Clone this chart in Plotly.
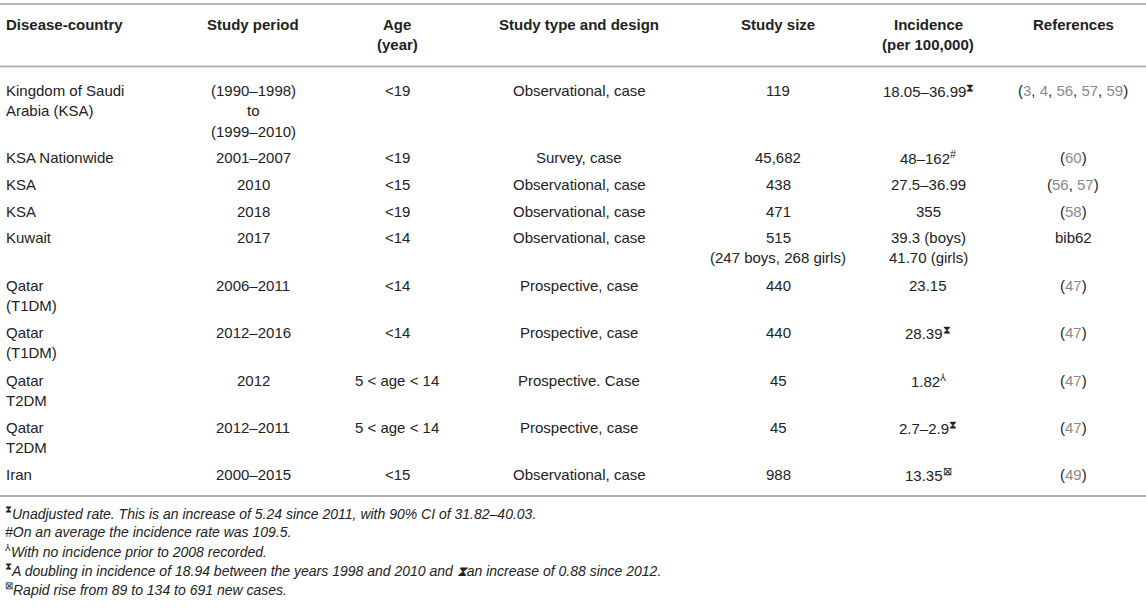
import plotly.graph_objects as go

# ---------------- data ----------------
headers = ["Disease-country", "Study period", "Age\n(year)", "Study type and design",
           "Study size", "Incidence\n(per 100,000)", "References"]

countries = ["Kingdom of Saudi\nArabia (KSA)", "KSA Nationwide", "KSA", "KSA", "Kuwait",
             "Qatar\n(T1DM)", "Qatar\n(T1DM)", "Qatar\nT2DM", "Qatar\nT2DM", "Iran"]
periods = ["(1990–1998)\nto\n(1999–2010)", "2001–2007", "2010", "2018", "2017",
           "2006–2011", "2012–2016", "2012", "2012–2011", "2000–2015"]
ages = ["<19", "<19", "<15", "<19", "<14", "<14", "<14", "5 < age < 14", "5 < age < 14", "<15"]
designs = ["Observational, case", "Survey, case", "Observational, case", "Observational, case",
           "Observational, case", "Prospective, case", "Prospective, case", "Prospective. Case",
           "Prospective, case", "Observational, case"]
sizes = ["119", "45,682", "438", "471", "515\n(247 boys, 268 girls)", "440", "440", "45", "45", "988"]
incidences = ["18.05–36.99", "48–162", "27.5–36.99", "355", "39.3 (boys)\n41.70 (girls)",
              "23.15", "28.39", "1.82", "2.7–2.9", "13.35"]
incidence_marks = ["⧗", "#", "", "", "", "", "⧗", "⅄", "⧗", "⊠"]
references = [[3, 4, 56, 57, 59], [60], [56, 57], [58], "bib62", [47], [47], [47], [47], [49]]

footnote_marks = ["⧗", "", "⅄", "⧗", "⊠"]
footnotes = [
    "Unadjusted rate. This is an increase of 5.24 since 2011, with 90% CI of 31.82–40.03.",
    "#On an average the incidence rate was 109.5.",
    "With no incidence prior to 2008 recorded.",
    "A doubling in incidence of 18.94 between the years 1998 and 2010 and ⧗an increase of 0.88 since 2012.",
    "Rapid rise from 89 to 134 to 691 new cases.",
]

# ---------------- layout / style ----------------
W, H = 1146, 610
FONT = "Liberation Sans, Arial, Helvetica, sans-serif"
TXT = "#222222"
GRAY_REF = "#8a8a8a"
RULE = "#b4b4b4"
FS = 15
LINE = 20.5

col_x = [4, 253, 397, 579, 778, 928, 1073]
col_anchor = ["left", "center", "center", "center", "center", "center", "center"]
header_y = 24
row_y = [90, 157.5, 184, 211, 237, 285, 332, 380, 427, 474]
rules_y = [4, 66.5, 496]
foot_y = [513, 532, 551, 570, 589]


def esc(s):
    return s.replace("&", "&amp;").replace("<", "&lt;").replace(">", "&gt;")


def ref_html(r):
    if isinstance(r, str):
        return esc(r)
    parts = [f"<span style='color:{GRAY_REF}'>{n}</span>" for n in r]
    return "(" + ", ".join(parts) + ")"


fig = go.Figure()
annotations = []


def add_lines(x, y0, text_lines, anchor, bold=False, italic=False, size=FS, raw=False):
    for i, ln in enumerate(text_lines):
        t = ln if raw else esc(ln)
        if bold:
            t = f"<b>{t}</b>"
        if italic:
            t = f"<i>{t}</i>"
        annotations.append(dict(
            x=x, y=y0 + i * LINE, xref="x", yref="y", text=t, showarrow=False,
            xanchor=anchor, yanchor="middle",
            font=dict(family=FONT, size=size, color=TXT)))


# header
for c, h in enumerate(headers):
    add_lines(col_x[c], header_y, h.split("\n"), col_anchor[c], bold=True)

# body
columns = [countries, periods, ages, designs, sizes]
for r, y in enumerate(row_y):
    for c, col in enumerate(columns):
        add_lines(col_x[c], y, col[r].split("\n"), col_anchor[c])
    inc_lines = [esc(s) for s in incidences[r].split("\n")]
    if incidence_marks[r]:
        inc_lines[0] += f"<sup>{esc(incidence_marks[r])}</sup>"
    add_lines(col_x[5], y, inc_lines, "center", raw=True)
    add_lines(col_x[6], y, [ref_html(references[r])], "center", raw=True)

# footnotes
for i, (m, t) in enumerate(zip(footnote_marks, footnotes)):
    txt = (f"<sup>{m}</sup>" if m else "") + f"<i>{esc(t)}</i>"
    add_lines(3, foot_y[i], [txt], "left", raw=True, size=14)

shapes = [dict(type="line", xref="x", yref="y", x0=0, x1=W, y0=yy, y1=yy,
               line=dict(color=RULE, width=2)) for yy in rules_y]

fig.update_layout(
    width=W, height=H, margin=dict(l=0, r=0, t=0, b=0),
    paper_bgcolor="white", plot_bgcolor="white",
    xaxis=dict(range=[0, W], visible=False, fixedrange=True),
    yaxis=dict(range=[H, 0], visible=False, fixedrange=True),
    annotations=annotations, shapes=shapes, showlegend=False,
)

fig.write_html("out.html", config={"displayModeBar": False},
               post_script="document.body.style.margin='0';document.body.style.overflow='hidden';")
